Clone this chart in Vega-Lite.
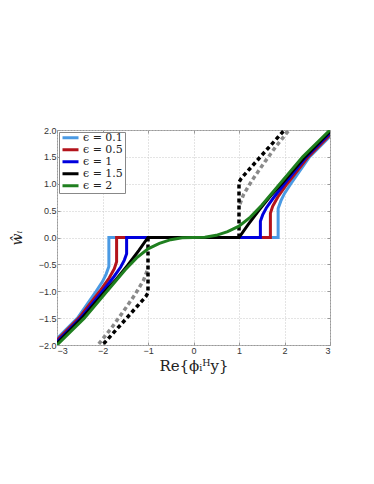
{
  "$schema": "https://vega.github.io/schema/vega-lite/v6.json",
  "autosize": {"type": "none"},
  "width": 273,
  "height": 215,
  "padding": {"left": 57, "top": 130, "right": 44, "bottom": 139},
  "background": "white",
  "config": {
    "view": {"stroke": "#999", "strokeWidth": 1},
    "axis": {"labelFont": "Liberation Sans", "labelFontSize": 9, "labelColor": "#333", "domainColor": "#999", "tickColor": "#999", "gridColor": "#c8c8c8", "gridDash": [1, 2]}
  },
  "datasets": {
    "solid": [
      {"s": "ϵ = 0.1", "o": 1, "x": -3, "y": -1.88},
      {"s": "ϵ = 0.1", "o": 2, "x": -2.55, "y": -1.5},
      {"s": "ϵ = 0.1", "o": 3, "x": -2.14, "y": -1.0},
      {"s": "ϵ = 0.1", "o": 4, "x": -2.0, "y": -0.82},
      {"s": "ϵ = 0.1", "o": 5, "x": -1.92, "y": -0.68},
      {"s": "ϵ = 0.1", "o": 6, "x": -1.86, "y": -0.54},
      {"s": "ϵ = 0.1", "o": 7, "x": -1.86, "y": 0},
      {"s": "ϵ = 0.1", "o": 8, "x": 1.86, "y": 0},
      {"s": "ϵ = 0.1", "o": 9, "x": 1.86, "y": 0.54},
      {"s": "ϵ = 0.1", "o": 10, "x": 1.92, "y": 0.68},
      {"s": "ϵ = 0.1", "o": 11, "x": 2.0, "y": 0.82},
      {"s": "ϵ = 0.1", "o": 12, "x": 2.14, "y": 1.0},
      {"s": "ϵ = 0.1", "o": 13, "x": 2.55, "y": 1.5},
      {"s": "ϵ = 0.1", "o": 14, "x": 3, "y": 1.88},

      {"s": "ϵ = 0.5", "o": 1, "x": -3, "y": -1.91},
      {"s": "ϵ = 0.5", "o": 2, "x": -2.52, "y": -1.5},
      {"s": "ϵ = 0.5", "o": 3, "x": -2.06, "y": -1.0},
      {"s": "ϵ = 0.5", "o": 4, "x": -1.85, "y": -0.75},
      {"s": "ϵ = 0.5", "o": 5, "x": -1.74, "y": -0.58},
      {"s": "ϵ = 0.5", "o": 6, "x": -1.69, "y": -0.45},
      {"s": "ϵ = 0.5", "o": 7, "x": -1.69, "y": 0},
      {"s": "ϵ = 0.5", "o": 8, "x": 1.69, "y": 0},
      {"s": "ϵ = 0.5", "o": 9, "x": 1.69, "y": 0.45},
      {"s": "ϵ = 0.5", "o": 10, "x": 1.74, "y": 0.58},
      {"s": "ϵ = 0.5", "o": 11, "x": 1.85, "y": 0.75},
      {"s": "ϵ = 0.5", "o": 12, "x": 2.06, "y": 1.0},
      {"s": "ϵ = 0.5", "o": 13, "x": 2.52, "y": 1.5},
      {"s": "ϵ = 0.5", "o": 14, "x": 3, "y": 1.91},

      {"s": "ϵ = 1", "o": 1, "x": -3, "y": -1.94},
      {"s": "ϵ = 1", "o": 2, "x": -2.48, "y": -1.5},
      {"s": "ϵ = 1", "o": 3, "x": -2.0, "y": -1.0},
      {"s": "ϵ = 1", "o": 4, "x": -1.75, "y": -0.73},
      {"s": "ϵ = 1", "o": 5, "x": -1.6, "y": -0.55},
      {"s": "ϵ = 1", "o": 6, "x": -1.52, "y": -0.42},
      {"s": "ϵ = 1", "o": 7, "x": -1.47, "y": -0.3},
      {"s": "ϵ = 1", "o": 8, "x": -1.47, "y": 0},
      {"s": "ϵ = 1", "o": 9, "x": 1.47, "y": 0},
      {"s": "ϵ = 1", "o": 10, "x": 1.47, "y": 0.3},
      {"s": "ϵ = 1", "o": 11, "x": 1.52, "y": 0.42},
      {"s": "ϵ = 1", "o": 12, "x": 1.6, "y": 0.55},
      {"s": "ϵ = 1", "o": 13, "x": 1.75, "y": 0.73},
      {"s": "ϵ = 1", "o": 14, "x": 2.0, "y": 1.0},
      {"s": "ϵ = 1", "o": 15, "x": 2.48, "y": 1.5},
      {"s": "ϵ = 1", "o": 16, "x": 3, "y": 1.94},

      {"s": "ϵ = 1.5", "o": 1, "x": -3, "y": -1.97},
      {"s": "ϵ = 1.5", "o": 2, "x": -2.45, "y": -1.5},
      {"s": "ϵ = 1.5", "o": 3, "x": -1.96, "y": -1.02},
      {"s": "ϵ = 1.5", "o": 4, "x": -1.7, "y": -0.78},
      {"s": "ϵ = 1.5", "o": 5, "x": -1.45, "y": -0.52},
      {"s": "ϵ = 1.5", "o": 6, "x": -1.2, "y": -0.24},
      {"s": "ϵ = 1.5", "o": 7, "x": -1.0, "y": 0},
      {"s": "ϵ = 1.5", "o": 8, "x": 1.0, "y": 0},
      {"s": "ϵ = 1.5", "o": 9, "x": 1.2, "y": 0.24},
      {"s": "ϵ = 1.5", "o": 10, "x": 1.45, "y": 0.52},
      {"s": "ϵ = 1.5", "o": 11, "x": 1.7, "y": 0.78},
      {"s": "ϵ = 1.5", "o": 12, "x": 1.96, "y": 1.02},
      {"s": "ϵ = 1.5", "o": 13, "x": 2.45, "y": 1.5},
      {"s": "ϵ = 1.5", "o": 14, "x": 3, "y": 1.97},

      {"s": "ϵ = 2", "o": 1, "x": -3, "y": -2.0},
      {"s": "ϵ = 2", "o": 2, "x": -2.4, "y": -1.5},
      {"s": "ϵ = 2", "o": 3, "x": -1.9, "y": -1.0},
      {"s": "ϵ = 2", "o": 4, "x": -1.7, "y": -0.8},
      {"s": "ϵ = 2", "o": 5, "x": -1.5, "y": -0.6},
      {"s": "ϵ = 2", "o": 6, "x": -1.25, "y": -0.38},
      {"s": "ϵ = 2", "o": 7, "x": -1.0, "y": -0.21},
      {"s": "ϵ = 2", "o": 8, "x": -0.75, "y": -0.11},
      {"s": "ϵ = 2", "o": 9, "x": -0.5, "y": -0.04},
      {"s": "ϵ = 2", "o": 10, "x": -0.25, "y": -0.005},
      {"s": "ϵ = 2", "o": 11, "x": 0, "y": 0},
      {"s": "ϵ = 2", "o": 12, "x": 0.25, "y": 0.005},
      {"s": "ϵ = 2", "o": 13, "x": 0.5, "y": 0.04},
      {"s": "ϵ = 2", "o": 14, "x": 0.75, "y": 0.11},
      {"s": "ϵ = 2", "o": 15, "x": 1.0, "y": 0.21},
      {"s": "ϵ = 2", "o": 16, "x": 1.25, "y": 0.38},
      {"s": "ϵ = 2", "o": 17, "x": 1.5, "y": 0.6},
      {"s": "ϵ = 2", "o": 18, "x": 1.7, "y": 0.8},
      {"s": "ϵ = 2", "o": 19, "x": 1.9, "y": 1.0},
      {"s": "ϵ = 2", "o": 20, "x": 2.4, "y": 1.5},
      {"s": "ϵ = 2", "o": 21, "x": 3, "y": 2.0}
    ],
    "dashed": [
      {"seg": "gp", "c": "gray", "o": 1, "x": 1.02, "y": 0.62},
      {"seg": "gp", "c": "gray", "o": 2, "x": 1.1, "y": 0.8},
      {"seg": "gp", "c": "gray", "o": 3, "x": 1.3, "y": 1.08},
      {"seg": "gp", "c": "gray", "o": 4, "x": 1.57, "y": 1.41},
      {"seg": "gp", "c": "gray", "o": 5, "x": 1.8, "y": 1.68},
      {"seg": "gp", "c": "gray", "o": 6, "x": 2.1, "y": 2.0},
      {"seg": "gn", "c": "gray", "o": 1, "x": -1.02, "y": -0.62},
      {"seg": "gn", "c": "gray", "o": 2, "x": -1.1, "y": -0.8},
      {"seg": "gn", "c": "gray", "o": 3, "x": -1.3, "y": -1.08},
      {"seg": "gn", "c": "gray", "o": 4, "x": -1.57, "y": -1.41},
      {"seg": "gn", "c": "gray", "o": 5, "x": -1.8, "y": -1.68},
      {"seg": "gn", "c": "gray", "o": 6, "x": -2.1, "y": -2.0},
      {"seg": "kp", "c": "black", "o": 1, "x": 1.0, "y": 0},
      {"seg": "kp", "c": "black", "o": 2, "x": 1.0, "y": 1.03},
      {"seg": "kp", "c": "black", "o": 3, "x": 1.05, "y": 1.1},
      {"seg": "kp", "c": "black", "o": 4, "x": 1.5, "y": 1.53},
      {"seg": "kp", "c": "black", "o": 5, "x": 2.0, "y": 2.0},
      {"seg": "kn", "c": "black", "o": 1, "x": -1.0, "y": 0},
      {"seg": "kn", "c": "black", "o": 2, "x": -1.0, "y": -1.03},
      {"seg": "kn", "c": "black", "o": 3, "x": -1.05, "y": -1.1},
      {"seg": "kn", "c": "black", "o": 4, "x": -1.5, "y": -1.53},
      {"seg": "kn", "c": "black", "o": 5, "x": -2.0, "y": -2.0}
    ]
  },
  "resolve": {"axis": {"x": "independent", "y": "independent"}, "scale": {"color": "independent"}, "legend": {"color": "independent"}},
  "layer": [
    {
      "data": {"name": "dashed"},
      "mark": {"type": "line", "strokeWidth": 3.5, "strokeDash": [4, 3], "clip": true},
      "encoding": {
        "x": {"field": "x", "type": "quantitative", "scale": {"domain": [-3, 3], "nice": false},
          "axis": {"orient": "top", "values": [-3, -2, -1, 0, 1, 2, 3], "labels": false, "grid": false, "tickSize": -3, "title": null, "domain": false}},
        "y": {"field": "y", "type": "quantitative", "scale": {"domain": [-2, 2], "nice": false},
          "axis": {"orient": "right", "values": [-2, -1.5, -1, -0.5, 0, 0.5, 1, 1.5, 2], "labels": false, "grid": false, "tickSize": -3, "title": null, "domain": false}},
        "detail": {"field": "seg"},
        "order": {"field": "o", "type": "quantitative"},
        "color": {"field": "c", "type": "nominal", "scale": {"domain": ["gray", "black"], "range": ["#8a8a8a", "#000000"]}, "legend": null}
      }
    },
    {
      "data": {"name": "solid"},
      "mark": {"type": "line", "strokeWidth": 3, "clip": true},
      "encoding": {
        "x": {"field": "x", "type": "quantitative", "scale": {"domain": [-3, 3], "nice": false},
          "axis": {"values": [-3, -2, -1, 0, 1, 2, 3], "tickSize": -3, "labelPadding": 4, "grid": true, "title": "Re{ϕᵢᴴy}", "titleFont": "DejaVu Serif", "titleFontSize": 15, "titleFontWeight": "normal", "titleColor": "#222", "titlePadding": 3, "domain": false}},
        "y": {"field": "y", "type": "quantitative", "scale": {"domain": [-2, 2], "nice": false},
          "axis": {"values": [-2, -1.5, -1, -0.5, 0, 0.5, 1, 1.5, 2], "tickSize": -3, "labelPadding": 4, "grid": true, "title": "ŵᵢ", "titleFont": "DejaVu Serif", "titleFontStyle": "italic", "titleFontSize": 14, "titleFontWeight": "normal", "titleColor": "#222", "titlePadding": 14, "domain": false}},
        "order": {"field": "o", "type": "quantitative"},
        "color": {"field": "s", "type": "nominal",
          "scale": {"domain": ["ϵ = 0.1", "ϵ = 0.5", "ϵ = 1", "ϵ = 1.5", "ϵ = 2"], "range": ["#4a9ae4", "#b3131b", "#0000dd", "#000000", "#1f7f1f"]},
          "legend": {"orient": "top-left", "offset": 2, "title": null, "symbolType": "stroke", "symbolSize": 256, "symbolStrokeWidth": 3, "clipHeight": 7.5, "labelFont": "DejaVu Serif", "labelFontSize": 11, "labelColor": "#222", "rowPadding": 0, "labelOffset": 3, "padding": 2, "strokeColor": "#888", "fillColor": "white", "cornerRadius": 0}}
      }
    }
  ]
}
